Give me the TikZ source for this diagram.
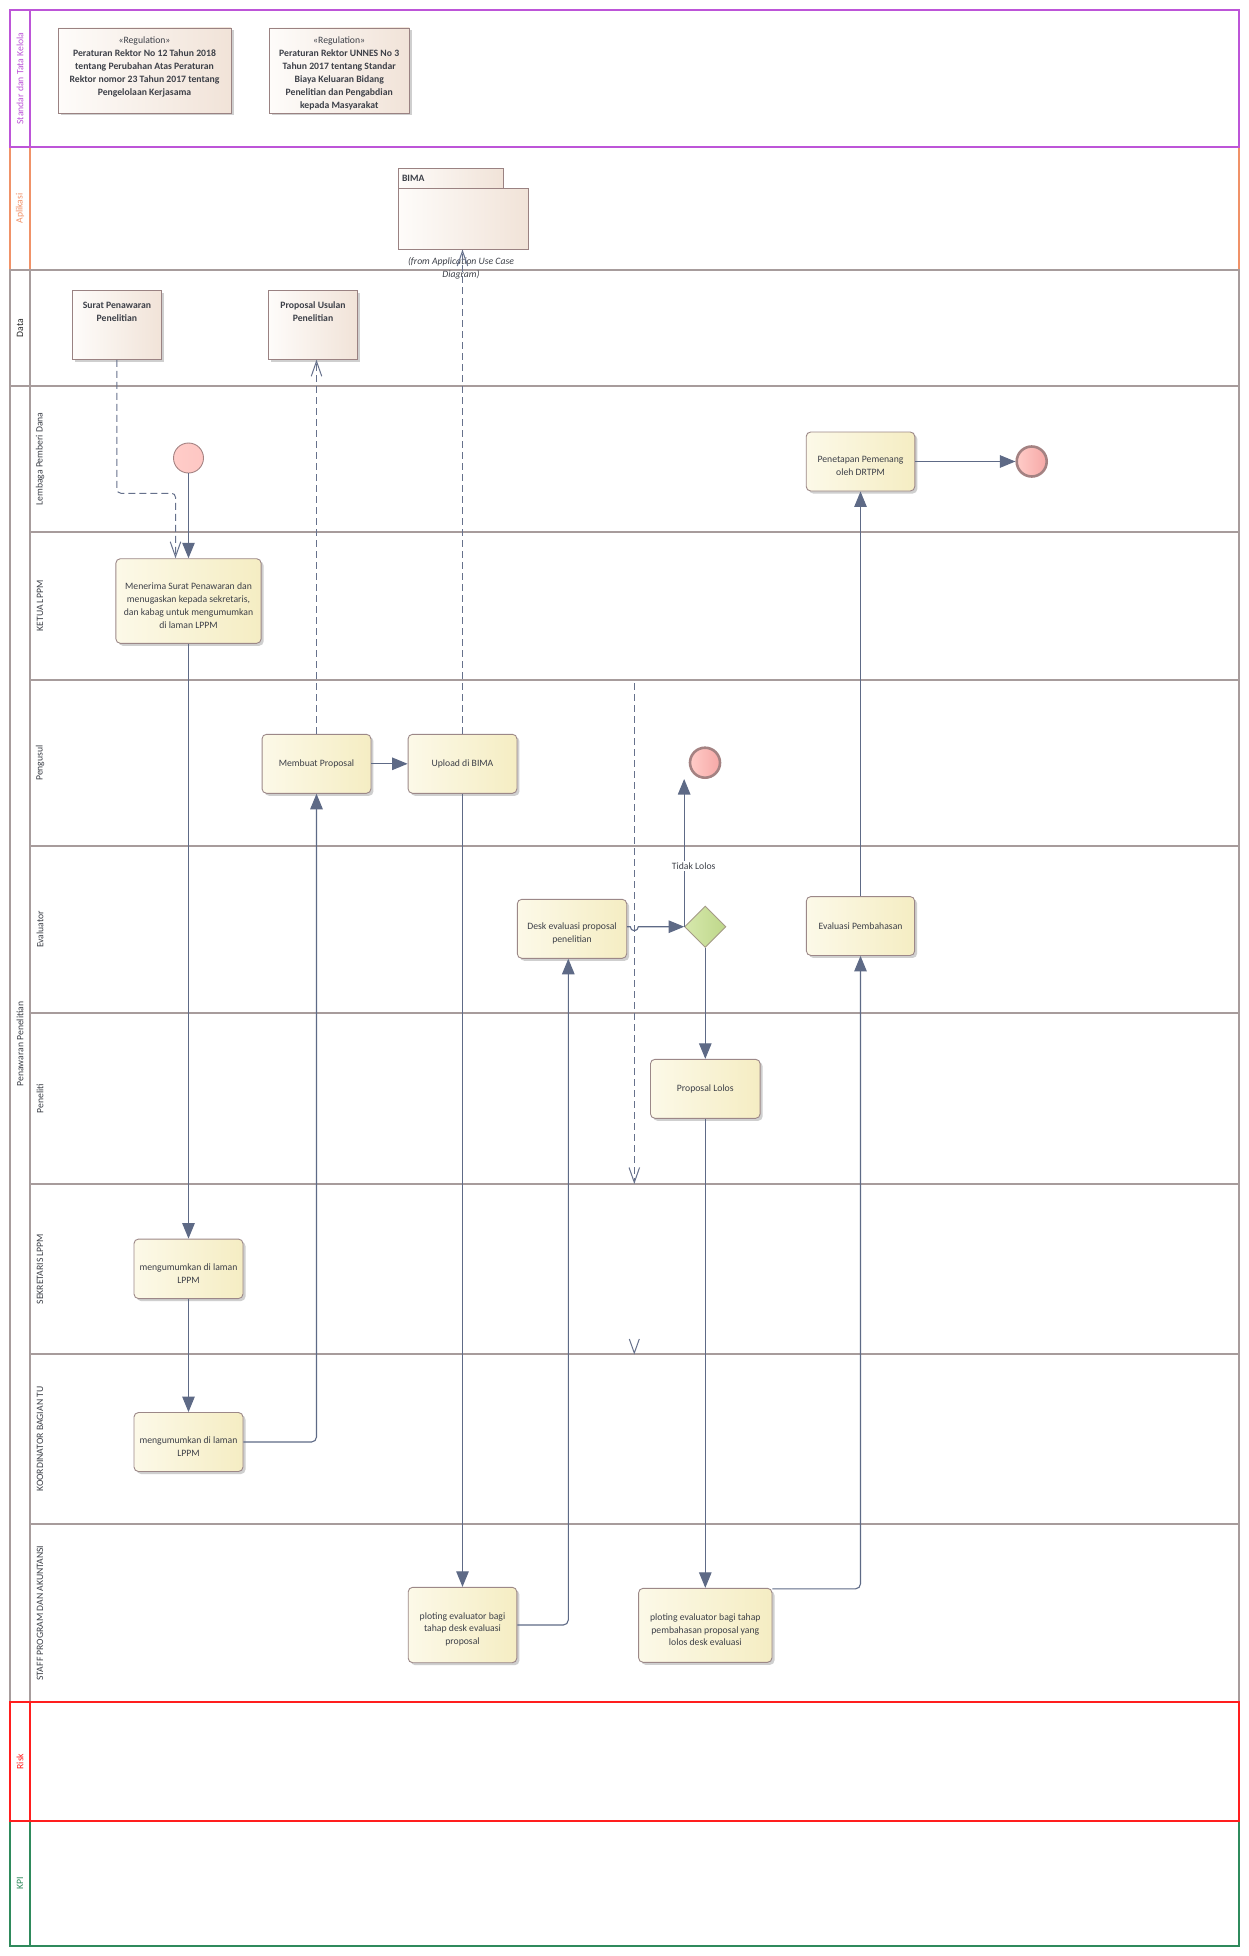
\documentclass[tikz,border=0pt]{standalone}
\usepackage{fontspec}
\setmainfont{Carlito}
\usetikzlibrary{arrows.meta,shapes.geometric,shadows,calc}

% colours
\definecolor{flowc}{HTML}{5E6A86}
\definecolor{dashc}{HTML}{66718C}
\definecolor{lanec}{HTML}{A79C9C}
\definecolor{actL}{HTML}{FCF9E8}
\definecolor{actR}{HTML}{F5EDC3}
\definecolor{actB}{HTML}{9C8888}
\definecolor{objL}{HTML}{FEFCFA}
\definecolor{objR}{HTML}{F1E3D8}
\definecolor{objB}{HTML}{9A8282}
\definecolor{evL}{HTML}{FFCCC8}
\definecolor{evR}{HTML}{F6A8A6}
\definecolor{evB}{HTML}{A48282}
\definecolor{decL}{HTML}{D6E8AC}
\definecolor{decR}{HTML}{BED78A}
\definecolor{decB}{HTML}{A49A86}
\definecolor{purp}{HTML}{BD55D8}
\definecolor{oran}{HTML}{F09268}
\definecolor{riskc}{HTML}{FF1E1E}
\definecolor{kpic}{HTML}{2F8A5C}
\definecolor{txt}{HTML}{3D4048}
\definecolor{shad}{HTML}{CFCFCF}

% extra room above the first line of multi-line activity texts
\newcommand\lowtop{\rule{0pt}{15.5pt}}

\tikzset{
  txtf/.style={font=\fontsize{9.7}{12.9}\selectfont, text=txt},
  boldf/.style={font=\fontsize{9.7}{12.9}\selectfont\bfseries, text=txt},
  pool/.style={line width=1.4pt},
  lanelabel/.style={txtf, rotate=90, inner sep=0pt},
  act/.style={txtf, rectangle, rounded corners=4.5pt, draw=actB, line width=0.9pt,
    left color=actL, right color=actR, align=center, inner sep=1pt,
    drop shadow={shadow xshift=2.5pt, shadow yshift=-2.5pt, fill=shad, opacity=1}},
  obj/.style={rectangle, draw=objB, line width=0.9pt, left color=objL, right color=objR,
    drop shadow={shadow xshift=2.5pt, shadow yshift=-2.5pt, fill=shad, opacity=1}},
  pkg/.style={rectangle, draw=objB, line width=0.9pt, left color=objL, right color=objR},
  objtext/.style={txtf, anchor=north, align=center, inner sep=0pt},
  startev/.style={circle, minimum size=30pt, inner sep=0pt, draw=evB, line width=0.9pt,
    left color=evL, right color=evL!85!evR},
  endev/.style={circle, minimum size=30pt, inner sep=0pt, draw=evB, line width=2.6pt,
    left color=evL, right color=evR},
  decision/.style={diamond, minimum width=41.4pt, minimum height=41.4pt, inner sep=0pt,
    draw=decB, line width=0.9pt, left color=decL, right color=decR},
  flow/.style={color=flowc, line width=1.1pt, -{Triangle[length=15.5pt,width=12.5pt]}},
  dflow/.style={color=dashc, line width=1pt, dash pattern=on 7pt off 4pt,
    -{Straight Barb[length=15pt,width=10.5pt]}},
  flowlabel/.style={txtf, fill=white, inner sep=1.5pt},
}

\begin{document}
\begin{tikzpicture}[x=1pt,y=-1pt]
\useasboundingbox (0,0) rectangle (1249,1956);
\fill[white] (0,0) rectangle (1249,1956);

% ---------- pools and lanes ----------
\draw[pool, draw=oran] (10,147) rectangle (1239,270) (30,147) -- (30,270);
\draw[pool, draw=purp] (10,10) rectangle (1239,147) (30,10) -- (30,147);
\draw[pool, draw=lanec] (10,270) rectangle (1239,386) (30,270) -- (30,386);
\draw[pool, draw=lanec] (10,386) rectangle (1239,1702) (30,386) -- (30,1702);
\foreach \yy in {532,680,846,1013,1184,1354,1524}
  \draw[pool, draw=lanec] (30,\yy) -- (1239,\yy);
\draw[pool, draw=kpic] (10,1821) rectangle (1239,1946) (30,1821) -- (30,1946);
\draw[pool, draw=riskc] (10,1702) rectangle (1239,1821) (30,1702) -- (30,1821);

% ---------- lane titles ----------
\node[lanelabel, text=purp] (lb-std) at (20,78.5) {Standar dan Tata Kelola};
\node[lanelabel, text=oran] (lb-app) at (20,208.5) {Aplikasi};
\node[lanelabel, text=black!85] (lb-data) at (20,328) {Data};
\node[lanelabel] (lb-pool) at (20,1044) {Penawaran Penelitian};
\node[lanelabel] (lb-lpd) at (40,459) {Lembaga Pemberi Dana};
\node[lanelabel] (lb-ketua) at (40,606) {KETUA LPPM};
\node[lanelabel] (lb-peng) at (40,763) {Pengusul};
\node[lanelabel] (lb-eval) at (40,929.5) {Evaluator};
\node[lanelabel] (lb-pen) at (40,1098.5) {Peneliti};
\node[lanelabel] (lb-sek) at (40,1269) {SEKRETARIS LPPM};
\node[lanelabel] (lb-koord) at (40,1439) {KOORDINATOR BAGIAN TU};
\node[lanelabel] (lb-staff) at (40,1613) {STAFF PROGRAM DAN AKUNTANSI};
\node[lanelabel, text=riskc] (lb-risk) at (20,1761.5) {Risk};
\node[lanelabel, text=kpic] (lb-kpi) at (20,1883.5) {KPI};

% ---------- regulations ----------
\node[obj, minimum width=173pt, minimum height=85pt] (reg1) at (144.5,70.5) {};
\node[objtext] (reg1t) at ([yshift=-9.5pt]reg1.north)
  {«Regulation»\\\textbf{Peraturan Rektor No 12 Tahun 2018}\\\textbf{tentang Perubahan Atas Peraturan}\\\textbf{Rektor nomor 23 Tahun 2017 tentang}\\\textbf{Pengelolaan Kerjasama}};
\node[obj, minimum width=140.3pt, minimum height=85pt] (reg2) at (339.2,70.5) {};
\node[objtext] (reg2t) at ([yshift=-9.5pt]reg2.north)
  {«Regulation»\\\textbf{Peraturan Rektor UNNES No 3}\\\textbf{Tahun 2017 tentang Standar}\\\textbf{Biaya Keluaran Bidang}\\\textbf{Penelitian dan Pengabdian}\\\textbf{kepada Masyarakat}};

% ---------- application package ----------
\node[pkg, boldf, minimum width=105pt, minimum height=20pt, text width=97pt, inner sep=4pt, align=left] (bimatab) at (450.5,178.3) {BIMA};
\node[pkg, minimum width=130pt, minimum height=60.7pt] (bima) at (463,218.7) {};
\node[txtf, font=\fontsize{9.7}{12.9}\selectfont\itshape, align=center, inner sep=0pt] (bimafrom) at (461,268) {(from Application Use Case\\Diagram)};

% ---------- data objects ----------
\node[obj, minimum width=89.2pt, minimum height=69pt] (surat) at (116.9,324.8) {};
\node[objtext] (surat-t) at ([yshift=-12pt]surat.north) {\textbf{Surat Penawaran}\\\textbf{Penelitian}};
\node[obj, minimum width=89.5pt, minimum height=69pt] (propusul) at (313,324.8) {};
\node[objtext] (propusul-t) at ([yshift=-12pt]propusul.north) {\textbf{Proposal Usulan}\\\textbf{Penelitian}};

% ---------- events and decision ----------
\node[startev] (start) at (188.5,458) {};
\node[endev] (end1) at (1031.7,461.5) {};
\node[endev] (end2) at (705,762.7) {};
\node[decision] (dec) at (705.3,926.7) {};

% ---------- activities ----------
\node[act, minimum width=145.3pt, minimum height=84.6pt] (menerima) at (188.5,601)
  {\lowtop Menerima Surat Penawaran dan\\menugaskan kepada sekretaris,\\dan kabag untuk mengumumkan\\di laman LPPM};
\node[act, minimum width=108.6pt, minimum height=59pt] (penet) at (860.5,461.5)
  {\lowtop Penetapan Pemenang\\oleh DRTPM};
\node[act, minimum width=108.9pt, minimum height=59pt] (membuat) at (316.5,763.8) {Membuat Proposal};
\node[act, minimum width=108.9pt, minimum height=59pt] (upload) at (462.5,763.8) {Upload di BIMA};
\node[act, minimum width=109.4pt, minimum height=59pt] (desk) at (572,928.8)
  {\lowtop Desk evaluasi proposal\\penelitian};
\node[act, minimum width=108.3pt, minimum height=58.9pt] (evalp) at (860.5,926) {Evaluasi Pembahasan};
\node[act, minimum width=109.7pt, minimum height=59pt] (lolos) at (705.3,1088.8) {Proposal Lolos};
\node[act, minimum width=109pt, minimum height=59.5pt] (sek) at (188.5,1268.8)
  {\lowtop mengumumkan di laman\\LPPM};
\node[act, minimum width=109pt, minimum height=59pt] (koord) at (188.5,1442)
  {\lowtop mengumumkan di laman\\LPPM};
\node[act, minimum width=108.6pt, minimum height=75.4pt] (plot1) at (462.5,1625)
  {\lowtop ploting evaluator bagi\\tahap desk evaluasi\\proposal};
\node[act, minimum width=133.4pt, minimum height=74pt] (plot2) at (705.3,1625.3)
  {\lowtop ploting evaluator bagi tahap\\pembahasan proposal yang\\lolos desk evaluasi};

% ---------- connectors ----------
\draw[flow] (start) -- (menerima);
\draw[dflow, rounded corners=4pt] (surat.south) |- ($(menerima.north)+(-13,-65)$) -- ($(menerima.north)+(-13,0)$);
\draw[flow] (menerima) -- (sek);
\draw[flow] (sek) -- (koord);
\draw[flow, rounded corners=5pt] (koord.east) -| (membuat.south);
\draw[flow] (membuat) -- (upload);
\draw[dflow] (membuat.north) -- (membuat.north |- propusul.south);
\draw[dflow] (upload.north) -- (upload.north |- bima.south);
\draw[flow] (upload) -- (plot1);
\draw[flow, rounded corners=5pt] (plot1.east) -| ($(desk.south)+(-3.7,0)$);

\coordinate (dtop) at (634.3,683);
\coordinate (dbot) at (634.3,1184);
\draw[dflow] (dtop) -- (dbot);

\draw[flow] (desk.east |- dec.west) -- ($(dtop |- dec.west)+(-4,0)$)
  arc[start angle=180, end angle=360, radius=4pt] -- (dec.west);
\draw[flow] (dec.west) -- (dec.west |- end2.south)
  node[flowlabel, pos=0.41, xshift=9.5pt] (tidak) {Tidak Lolos};
\draw[flow] (dec) -- (lolos);
\draw[flow] (lolos) -- (plot2);
\draw[flow, rounded corners=5pt] ([yshift=-1pt]plot2.north east) -| (evalp.south);
\draw[flow] (evalp) -- (penet);
\draw[flow] (penet) -- (end1);

% loose open arrow head on the lane border
\coordinate (vtip) at (634.3,1353);
\draw[color=dashc, line width=1pt] ($(vtip)+(-5,-14)$) -- (vtip) -- ($(vtip)+(5,-14)$);
\end{tikzpicture}
\end{document}
